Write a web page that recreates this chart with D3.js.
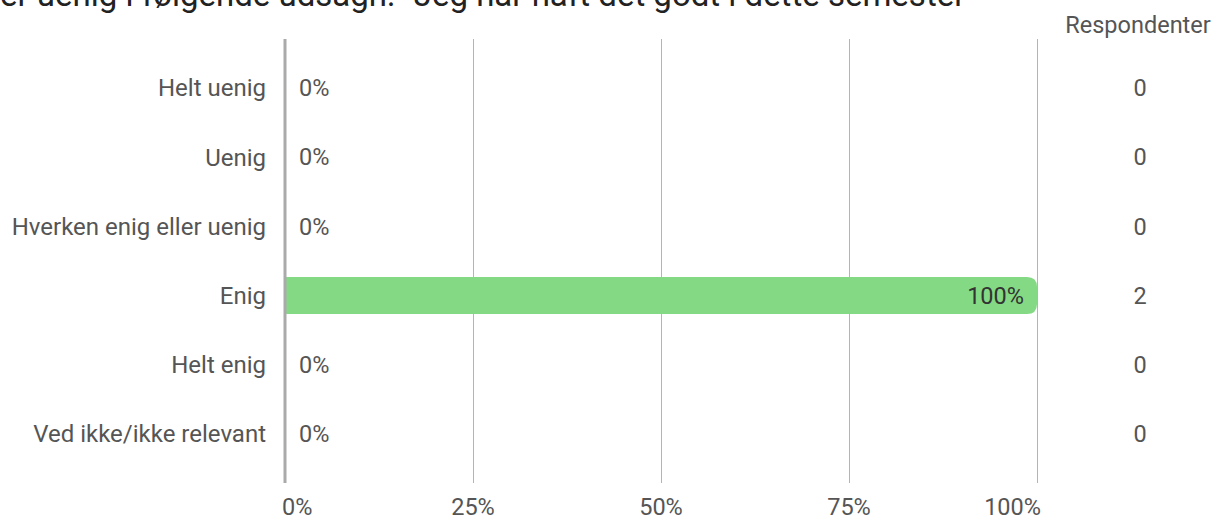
<!DOCTYPE html>
<html><head><meta charset="utf-8">
<script src="https://cdn.jsdelivr.net/npm/d3@7"></script>
<style>
html,body{margin:0;padding:0;background:#fff;}
svg{display:block;font-family:Roboto,"Noto Sans",sans-serif;}
</style></head>
<body>
<svg id="chart" width="1217" height="520"></svg>
<script>
const titleText = "er uenig i følgende udsagn: \"Jeg har haft det godt i dette semester\"";
const categories = ["Helt uenig","Uenig","Hverken enig eller uenig","Enig","Helt enig","Ved ikke/ikke relevant"];
const percents = [0,0,0,100,0,0];
const respondents = [0,0,0,2,0,0];
const ticks = [0,25,50,75,100];
const countHeader = "Respondenter";

const svg = d3.select("#chart");
const x = d3.scaleLinear().domain([0,100]).range([285,1037]);
const y = d3.scaleBand().domain(categories).range([53.4,468.6]);
const barH = 37;
const fs = 23.5;

svg.append("text").attr("x",0).attr("y",6).attr("font-size",33).attr("fill","#222").text(titleText);

// gridlines
svg.append("g").selectAll("line").data(ticks.filter(t=>t>0)).join("line")
  .attr("x1",d=>x(d)+0.5).attr("x2",d=>x(d)+0.5).attr("y1",39).attr("y2",483)
  .attr("stroke","#b4b4b4").attr("stroke-width",1);

// bars
const bw = 10;
svg.append("g").selectAll("path").data(categories.map((c,i)=>({c,v:percents[i]})).filter(d=>d.v>0)).join("path")
  .attr("fill","#84d984")
  .attr("d",d=>{
    const x0=x(0), x1=x(d.v), y0=y(d.c)+y.bandwidth()/2-barH/2, y1=y0+barH, r=bw;
    return `M${x0},${y0}H${x1-r}Q${x1},${y0} ${x1},${y0+r}V${y1-r}Q${x1},${y1} ${x1-r},${y1}H${x0}Z`;
  });

// axis line
svg.append("line").attr("x1",x(0)).attr("x2",x(0)).attr("y1",39).attr("y2",483)
  .attr("stroke","#aaa").attr("stroke-width",3);

// category labels
svg.append("g").selectAll("text").data(categories).join("text")
  .attr("x",266).attr("y",d=>y(d)+y.bandwidth()/2).attr("dy","0.35em")
  .attr("text-anchor","end").attr("font-size",24).attr("fill","#555").text(d=>d);

// value labels
svg.append("g").selectAll("text").data(categories.map((c,i)=>({c,v:percents[i]}))).join("text")
  .attr("x",d=>d.v>0?x(d.v)-13:x(0)+14)
  .attr("y",d=>y(d.c)+y.bandwidth()/2).attr("dy","0.35em")
  .attr("text-anchor",d=>d.v>0?"end":"start")
  .attr("font-size",fs).attr("fill",d=>d.v>0?"#333":"#555").text(d=>d.v+"%");

// respondents
svg.append("text").attr("x",1138).attr("y",25).attr("dy","0.35em").attr("text-anchor","middle")
  .attr("font-size",fs).attr("fill","#555").text(countHeader);
svg.append("g").selectAll("text").data(categories.map((c,i)=>({c,n:respondents[i]}))).join("text")
  .attr("x",1140).attr("y",d=>y(d.c)+y.bandwidth()/2).attr("dy","0.35em")
  .attr("text-anchor","middle").attr("font-size",fs).attr("fill","#555").text(d=>d.n);

// x tick labels
svg.append("g").selectAll("text").data(ticks).join("text")
  .attr("x",(d,i)=>i===0?x(d)-3:(i===ticks.length-1?x(d)+4:x(d)))
  .attr("y",507).attr("dy","0.35em")
  .attr("text-anchor",(d,i)=>i===0?"start":(i===ticks.length-1?"end":"middle"))
  .attr("font-size",fs).attr("fill","#555").text(d=>d+"%");
</script>
</body></html>
